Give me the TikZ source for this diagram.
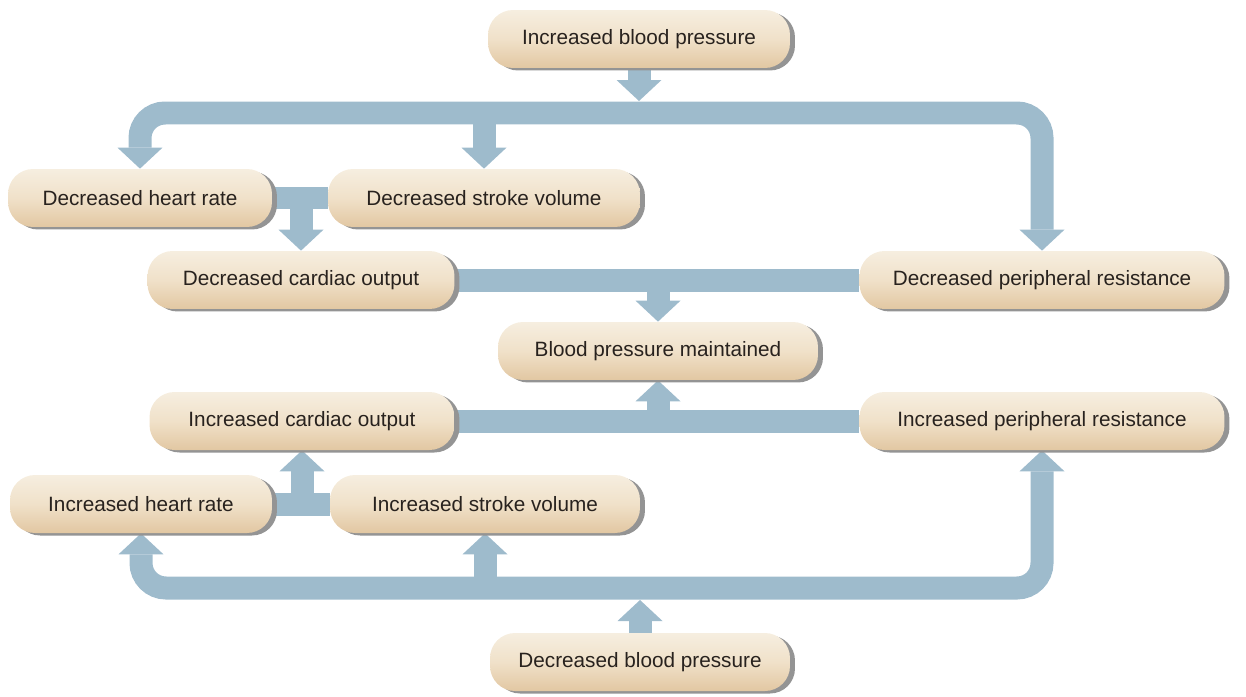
\documentclass[tikz,border=0pt]{standalone}
\usepackage{fontspec}
\setmainfont{Liberation Sans}
\usetikzlibrary{arrows.meta,shadows,backgrounds}

\definecolor{flowblue}{RGB}{158,187,204}
\definecolor{boxtop}{RGB}{246,238,224}
\definecolor{boxmid}{RGB}{240,225,201}
\definecolor{boxbot}{RGB}{226,199,162}
\definecolor{ink}{RGB}{40,34,30}

\tikzset{
  stage/.style={rectangle, rounded corners=0.5cm, minimum height=1.16cm,
    top color=boxtop, bottom color=boxbot, middle color=boxmid,
    text=ink, font=\fontsize{11.8}{14}\selectfont,
    drop shadow={shadow xshift=0.1cm, shadow yshift=-0.05cm, fill=black!42, opacity=1}},
  band/.style={draw=flowblue, line width=0.46cm},
  head/.tip={Triangle[width=0.9cm, length=0.42cm, line width=0pt]},
  flow/.style={band, -head},
  twoway/.style={band, rounded corners=0.5cm, head-head},
}

\begin{document}
\begin{tikzpicture}[x=0.02cm, y=-0.02cm]
    \useasboundingbox (0,0) rectangle (1246,696);

    % --- Coordinates ---
    \coordinate (topbar)  at (640,113); % upper split bar
    \coordinate (topedge) at (640,101);
    \coordinate (botbar)  at (640,588); % lower split bar
    \coordinate (botedge) at (640,600);

    % --- Boxes ---
    \node[stage, minimum width=6.04cm] (ibp) at (639,39)   {Increased blood pressure};
    \node[stage, minimum width=5.28cm] (dhr) at (140,198)  {Decreased heart rate};
    \node[stage, minimum width=6.24cm] (dsv) at (484,198)  {Decreased stroke volume};
    \node[stage, minimum width=6.14cm] (dco) at (301,280)  {Decreased cardiac output};
    \node[stage, minimum width=7.30cm] (dpr) at (1042,280) {Decreased peripheral resistance};
    \node[stage, minimum width=6.40cm] (bpm) at (658,351)  {Blood pressure maintained};
    \node[stage, minimum width=6.10cm] (ico) at (302,421)  {Increased cardiac output};
    \node[stage, minimum width=7.30cm] (ipr) at (1042,421) {Increased peripheral resistance};
    \node[stage, minimum width=5.24cm] (ihr) at (141,504)  {Increased heart rate};
    \node[stage, minimum width=6.20cm] (isv) at (485,504)  {Increased stroke volume};
    \node[stage, minimum width=6.00cm] (dbp) at (640,662)  {Decreased blood pressure};

    % --- Arrows, behind the boxes ---
    \begin{pgfonlayer}{background}
        % rise in pressure
        \draw[flow] (ibp.south) -- (ibp.south |- topedge);
        \draw[twoway] (dhr.north) -- (dhr.north |- topbar) -- (dpr.north |- topbar) -- (dpr.north);
        \draw[flow] (dsv.north |- topbar) -- (dsv.north);
        \draw[band] (dhr.east) -- (dsv.west);
        \draw[flow] (dco.north |- dhr.east) -- (dco.north);
        \draw[band] (dco.east) -- (dpr.west);
        \draw[flow] (bpm.north |- dco.east) -- (bpm.north);

        % fall in pressure
        \draw[flow] (dbp.north) -- (dbp.north |- botedge);
        \draw[twoway] (ihr.south) -- (ihr.south |- botbar) -- (ipr.south |- botbar) -- (ipr.south);
        \draw[flow] (isv.south |- botbar) -- (isv.south);
        \draw[band] (ihr.east) -- (isv.west);
        \draw[flow] (ico.south |- ihr.east) -- (ico.south);
        \draw[band] (ico.east) -- (ipr.west);
        \draw[flow] (bpm.south |- ico.east) -- (bpm.south);
    \end{pgfonlayer}

\end{tikzpicture}
\end{document}
